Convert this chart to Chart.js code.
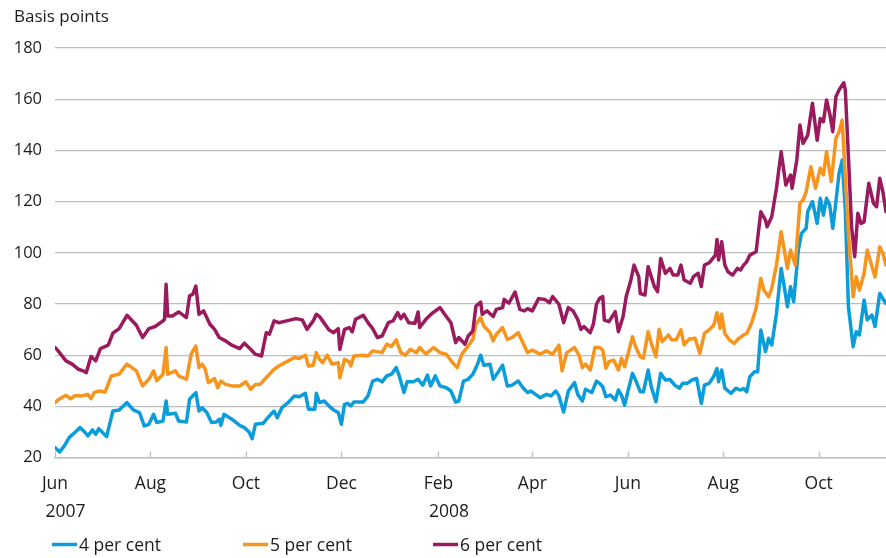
<!DOCTYPE html>
<html><head><meta charset="utf-8">
<script src="https://cdn.jsdelivr.net/npm/chart.js@4/dist/chart.umd.min.js"></script>
<style>html,body{margin:0;padding:0;background:#fff}#wrap{width:886px;height:558px;position:relative}</style>
</head><body><div id="wrap"><canvas id="c"></canvas></div>
<script>
// Day offsets are counted from 1 June 2007
const tickDays = [0, 61, 122, 183, 245, 305, 366, 427, 488];
const monthLabels = ['Jun', 'Aug', 'Oct', 'Dec', 'Feb', 'Apr', 'Jun', 'Aug', 'Oct'];
const yearLabels = ['2007', '', '', '', '2008', '', '', '', ''];
const seriesNames = ['4 per cent', '5 per cent', '6 per cent'];
const yAxisTitle = 'Basis points';

const days4 = [0,3,6,9,13,16,19,21,24,26,28,33,37,41,46,50,54,57,60,63,65,69,71,72,77,79,84,86,90,92,94,97,100,103,105,106,108,113,118,121,124,126,128,133,136,140,142,145,149,153,156,160,162,166,167,169,172,175,178,181,183,185,187,189,191,197,200,203,206,209,212,215,218,220,223,225,229,232,235,238,240,243,246,250,253,256,258,261,264,267,270,272,274,278,280,283,286,289,292,296,299,302,304,310,314,317,320,322,325,328,332,334,337,339,343,346,348,350,352,355,358,360,362,364,366,369,371,374,376,379,381,384,387,390,393,396,399,401,404,407,410,413,415,418,421,423,424,426,428,432,435,438,440,442,444,447,449,451,454,456,458,461,464,466,468,470,472,475,477,480,481,484,487,489,491,493,495,497,499,501,503,505,507,510,512,514,517,519,522,524,527,529,531];
const bp4 = [23.9,22.2,24.6,27.8,30,31.7,30,28.5,30.8,29.1,31.3,28.2,38.2,38.6,41.5,38.6,37.6,32.4,33,36.9,33.7,34.3,42.1,36.9,37.3,34.3,33.9,42.8,45.4,38.2,39.5,37.6,33.7,33.9,35,32.6,36.9,35,32.6,31.7,30,27.4,33,33.4,35.6,38.2,35.6,39.5,41.5,44.1,43.8,45.1,38.9,38.9,45.1,41.5,42.1,40.2,38.6,37.6,33,40.8,41.2,40.2,41.7,41.7,44.1,49.9,50.6,49.6,51.9,52.6,55.2,51.9,45.4,49.6,49.6,50.6,48.3,52.2,48,51.9,48,47.3,46,41.7,42.1,49.9,50.6,52.6,56.5,60,56.1,56.5,50.6,53.2,56.1,48,48.3,49.9,47.3,45.4,46,43.4,44.7,44.1,46,44.1,37.8,46,49.3,44.7,42.1,46.7,45.4,49.9,49,47.7,43.8,44.4,42.5,46.4,44.4,40.5,45.7,52.9,50.3,45.7,45.7,54.2,47.7,41.8,52.9,50.3,50.5,48.3,47.1,49,49,50.3,50.9,41.2,48.3,49,51.8,54.8,49.6,54.2,47.1,45.1,47.1,46.4,47,45.7,51.6,53.5,53.5,69.8,61.4,66.6,64,76.3,93.9,86.7,78.9,86.7,80.9,101.1,107.6,109.6,116.1,120,111.5,121.3,114.7,121.3,118.7,109.6,120,131,136.2,116.7,78.9,63.3,69.2,67.9,81.6,73.8,75.7,71.2,84.1,82.1,80.2];

const days5 = [0,3,7,10,13,17,21,23,25,28,32,36,41,46,52,56,60,63,65,69,71,72,77,79,84,87,90,92,94,96,98,102,104,106,109,113,118,122,125,128,131,136,140,143,147,153,156,160,162,165,167,169,171,174,177,181,182,185,188,189,191,197,200,203,209,212,215,218,221,224,227,231,233,237,242,246,250,254,257,260,264,267,269,272,274,278,280,282,286,289,292,296,299,302,305,310,314,318,322,324,327,332,335,337,339,342,345,348,350,352,354,357,360,362,364,366,369,371,374,376,379,381,384,386,388,392,394,397,400,402,405,409,412,415,418,421,423,425,426,428,431,434,437,440,442,445,448,451,453,456,458,461,464,466,468,470,473,476,478,480,483,486,489,491,493,496,499,501,503,505,507,510,512,514,517,519,522,524,527,529,531];
const bp5 = [41.5,43,44.3,43,44.3,44.1,44.7,43,45.4,46,45.6,51.9,52.6,56.5,53.9,48,50.6,53.9,50,52.6,63,52.6,53.9,51.9,50.6,60.4,63.6,55.2,56.5,54.5,49.3,50.9,47.3,49.9,48.6,48,48,49.6,46.7,48.6,48.6,51.9,54.5,55.8,57.1,59.1,58.7,60,55.8,56.1,61,58.4,57.1,60,56.5,57.1,51.2,58.4,57.4,55.8,59.7,60,59.7,61.7,61,64.3,63.4,66,61,60,62.3,61,63,60.4,63,61,60.4,57.1,55.2,60.4,63.6,66.2,72.1,74.7,71.4,68.8,65.6,68.2,70.8,66.2,66.9,68.8,64.9,61,62,60.4,61.7,60.4,63.9,53.9,61,63,59.7,55.2,56.5,54.2,63,63,62,54.9,57.5,58.1,54.2,58.8,55.5,60.1,67.2,63.3,59.4,58.8,69.2,64.6,59.4,70.1,65.3,67.9,66,66,69.9,64,66.2,66.6,60.7,68.5,69.9,71.8,76.6,70.5,76.1,68.5,65.9,64.6,66.6,67.9,68.5,72.4,78.3,90,85.4,82.8,86.1,95.2,108.2,101.1,93.9,101.1,95.2,119.3,120.6,123.9,133.6,125.2,133,130.4,139.5,127.8,144.7,147.3,151.8,129.7,107.6,82.8,90.6,85.4,91.9,101.1,94.6,90.6,102.3,99.8,95.2];

const days6 = [0,2,7,11,15,18,20,23,26,29,34,37,41,46,52,56,60,64,69,70,71,72,75,79,84,86,88,90,92,95,99,102,105,109,113,118,121,125,128,132,135,137,140,143,148,154,158,161,165,167,169,171,175,178,181,182,185,188,190,192,197,200,203,206,209,213,216,219,221,223,226,230,232,233,237,241,246,249,253,256,258,262,264,267,269,272,273,276,280,282,286,287,290,294,297,300,302,305,309,313,316,318,322,325,328,331,334,336,338,342,344,346,348,350,351,354,358,360,363,365,368,370,373,374,377,379,381,383,385,387,390,393,395,398,400,402,406,408,411,413,415,418,422,423,424,426,428,430,433,436,438,440,442,444,448,451,454,455,458,461,464,467,470,471,474,476,478,481,484,487,489,491,493,495,497,499,501,504,505,507,509,511,513,515,517,520,523,525,527,529,531];
const bp6 = [63,61.7,57.8,56.5,54.5,53.9,53.2,59.5,57.8,62.6,63.9,68.6,70.4,75.6,71.7,66.9,70.4,71.2,73.4,74,87.7,75.3,75.3,76.9,74.7,83.2,83.8,87,76,77.3,72.1,70.1,66.9,65.6,63.9,62.6,64.7,62.3,60.4,59.7,68.8,68.2,73.4,72.7,73.4,74.3,73.8,70.1,73.4,76,75.1,73.4,69.9,68.8,70.4,62.3,70.1,70.8,69.1,74,75.6,72.7,70.4,66.9,67.5,72.7,73.4,76.6,74.3,76,72.7,72.5,76.9,70.8,74,76.4,78.6,76,72.7,64.9,66.9,64.3,67.5,69.5,79.2,80.7,76,77.3,75.1,77.9,78.6,81.8,80.3,84.7,77.9,77.3,78.2,77.3,82.1,81.8,80.5,82.9,79.9,72.7,78.6,77.3,74,70.1,71.2,68.8,72.1,79.9,82.2,82.9,73.7,73.1,77,69.2,75.1,82.9,89.4,95.2,90.7,84.1,83.5,94.6,90.7,86.8,84.8,97.8,92,93.9,91.3,91.3,95.2,89.4,88.1,90.7,92,86.8,95.2,96.1,99.1,105.2,97.2,104.3,95.2,92.6,91.3,93.9,93.3,95.2,96.5,99.1,100.4,116,112.8,110.2,114.1,125.2,139.5,126.5,130.4,125.2,136.2,149.9,142.7,146,158.4,144,152.5,151.2,159.7,154.5,147.3,161,163.6,166.4,163.6,137.5,110.2,98.5,115.4,111.5,112.1,127.2,119.3,118,129.1,123.9,116];

const colors = ['#0b9dd9', '#f7941d', '#9a1a5e'];
const textColor = '#1f1b1c';
const gridColor = '#bcbec0';
const FONT = "'Open Sans', 'Noto Sans', sans-serif";

function pts(days, vals) { return days.map((d, i) => ({ x: d, y: vals[i] })); }

const decor = {
  id: 'decor',
  beforeDatasetsDraw(chart) {
    const { ctx, chartArea, scales: { x } } = chart;
    ctx.save();
    ctx.strokeStyle = gridColor;
    ctx.lineWidth = 1.3;
    tickDays.forEach(d => {
      const px = Math.round(x.getPixelForValue(d)) + 0.5;
      ctx.beginPath();
      ctx.moveTo(px, chartArea.bottom);
      ctx.lineTo(px, chartArea.bottom - 6);
      ctx.stroke();
    });
    ctx.restore();
  },
  afterDraw(chart) {
    const { ctx, chartArea, scales: { x } } = chart;
    ctx.save();
    ctx.fillStyle = textColor;
    // axis title
    ctx.font = '17px ' + FONT;
    ctx.textAlign = 'left';
    ctx.textBaseline = 'alphabetic';
    ctx.fillText(yAxisTitle, 14, 22);
    // year labels
    ctx.font = '17.5px ' + FONT;
    ctx.textAlign = 'center';
    ctx.textBaseline = 'middle';
    tickDays.forEach((d, i) => {
      if (yearLabels[i]) ctx.fillText(yearLabels[i], x.getPixelForValue(d) + 10.5, chartArea.bottom + 54);
    });
    // legend
    const lx = [52, 243, 433];
    ctx.font = '17.5px ' + FONT;
    ctx.textAlign = 'left';
    seriesNames.forEach((name, i) => {
      ctx.strokeStyle = colors[i];
      ctx.lineWidth = 3.5;
      ctx.beginPath();
      ctx.moveTo(lx[i], 544.5);
      ctx.lineTo(lx[i] + 25, 544.5);
      ctx.stroke();
      ctx.fillStyle = textColor;
      ctx.textBaseline = 'alphabetic';
      ctx.fillText(name, lx[i] + 27, 551);
    });
    ctx.restore();
  }
};

new Chart(document.getElementById('c'), {
  type: 'line',
  data: {
    datasets: [
      { label: seriesNames[0], data: pts(days4, bp4), borderColor: colors[0], order: 3 },
      { label: seriesNames[1], data: pts(days5, bp5), borderColor: colors[1], order: 2 },
      { label: seriesNames[2], data: pts(days6, bp6), borderColor: colors[2], order: 1 }
    ]
  },
  options: {
    responsive: true,
    maintainAspectRatio: false,
    animation: false,
    elements: {
      line: { borderWidth: 3.5, tension: 0, borderJoinStyle: 'round', borderCapStyle: 'round', fill: false },
      point: { radius: 0, hoverRadius: 0 }
    },
    layout: { padding: { top: 48, right: 0, bottom: 0, left: 0 } },
    plugins: { legend: { display: false }, tooltip: { enabled: false } },
    scales: {
      x: {
        type: 'linear',
        min: 0,
        max: 531,
        afterBuildTicks: s => { s.ticks = tickDays.map(v => ({ value: v })); },
        afterFit: s => { s.height = 100.4; },
        grid: { display: true, drawOnChartArea: false, drawTicks: false, color: 'rgba(0,0,0,0)' },
        border: { display: true, color: gridColor, width: 1.5 },
        ticks: {
          autoSkip: false, maxRotation: 0, minRotation: 0, padding: 16,
          color: textColor, font: { family: FONT, size: 17.5 },
          callback: (v) => { const i = tickDays.indexOf(v); return i >= 0 ? monthLabels[i] : ''; }
        }
      },
      y: {
        type: 'linear',
        min: 20,
        max: 180,
        afterFit: s => { s.width = 55; },
        grid: { color: gridColor, lineWidth: 1.3, drawTicks: false },
        border: { display: false },
        ticks: { stepSize: 20, padding: 13, color: textColor, font: { family: FONT, size: 16.5 } }
      }
    }
  },
  plugins: [decor]
});
</script>
</body></html>
